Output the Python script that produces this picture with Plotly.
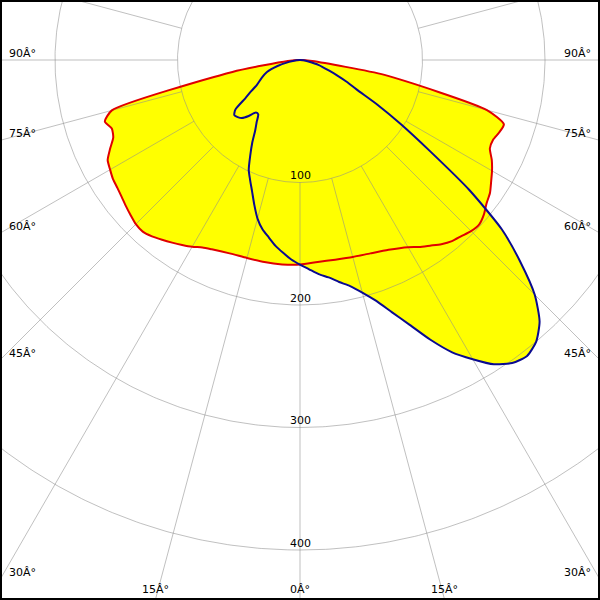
import numpy as np
import plotly.graph_objects as go

# Luminous intensity (cd/klm) vs. angle from nadir (deg); negative = left half-plane
red_angles = [-90, -85, -80, -75, -72.5, -70, -67.5, -65, -62.5, -60, -57.5, -55, -52.5, -50,
              -47.5, -45, -42.5, -40, -37.5, -35, -32.5, -30, -27.5, -25, -20, -15, -10, -5,
              0, 5, 10, 15, 20, 25, 30, 32.5, 35, 37.5, 40, 42.5, 45, 47.5, 50, 52.5, 55,
              57.5, 60, 62.5, 65, 67.5, 70, 72.5, 75, 80, 85, 90]
red_values = [0, 10, 56, 159, 167, 163.5, 165, 171, 177, 179, 181, 182, 183.5, 185.5,
              187.5, 189.5, 190, 188, 185, 182, 179, 176, 172.5, 170.5, 168, 167.3, 167.5, 167.5,
              167, 165.5, 165.5, 166.5, 168, 171, 176.5, 181, 185, 189.5, 193, 195, 197.5, 198.5,
              196, 192, 189.3, 185, 181, 176.5, 171, 170.5, 173, 174.5, 158, 70, 10, 0]

blue_angles = [-90, -85, -80, -75, -70, -65, -60, -57.5, -55, -52.5, -50, -47.5, -45, -42.5,
               -40, -37.5, -35, -32.5, -30, -27.5, -25, -22.5, -20, -17.5, -15, -12.5, -10,
               -7.5, -5, -2.5, 0, 2.5, 5, 7.5, 10, 12.5, 15, 17.5, 20, 22.5, 25, 27.5, 30,
               32.5, 35, 37.5, 40, 42.5, 45, 47.5, 50, 52.5, 55, 57.5, 60, 62.5, 65, 67.5,
               70, 75, 80, 85, 90]
blue_values = [0, 3, 9, 19, 28.7, 34.5, 40.6, 47, 54.5, 66.5, 70, 69, 67, 62,
               56, 56, 61.6, 68, 78, 88, 99, 106.3, 114.3, 124, 134, 141.5, 147,
               153, 158, 163, 167, 171, 175.5, 179, 184, 189, 196.5, 206, 219, 234, 252, 269, 282,
               294.5, 302, 304.5, 300, 289.5, 271, 244, 215, 174, 129, 98, 73, 52, 42, 32.7,
               25, 16, 7, 3, 0]

ring_values = [100, 200, 300, 400]
ring_labels = ["100", "200", "300", "400"]
spoke_angles = list(range(0, 360, 15))
side_label_angles = [90, 75, 60, 45, 30]
bottom_label_angles = [0, 15]

S = 1.225          # pixels per cd/klm
W, H = 600, 600
CX, CY = 300, 60   # pixel position of the pole

def to_xy(ang, val):
    a = np.radians(np.asarray(ang, dtype=float))
    v = np.asarray(val, dtype=float)
    return v * np.sin(a), -v * np.cos(a)

fig = go.Figure()

rx, ry = to_xy(red_angles, red_values)
bx, by = to_xy(blue_angles, blue_values)

for x, y in [(rx, ry), (bx, by)]:
    fig.add_trace(go.Scatter(x=x, y=y, mode="lines", fill="toself", fillcolor="#ffff00",
                             line=dict(width=0, color="#ffff00", shape="spline", smoothing=0.6),
                             hoverinfo="skip"))

# grid
gx, gy = [], []
th = np.linspace(0, 360, 721)
for r in ring_values:
    x, y = to_xy(th, np.full_like(th, r))
    gx += list(x) + [None]
    gy += list(y) + [None]
for a in spoke_angles:
    x, y = to_xy([a, a], [ring_values[0], 800])
    gx += list(x) + [None]
    gy += list(y) + [None]
fig.add_trace(go.Scatter(x=gx, y=gy, mode="lines", line=dict(color="rgba(140,140,140,0.55)", width=1),
                         hoverinfo="skip"))

fig.add_trace(go.Scatter(x=rx, y=ry, mode="lines",
                         line=dict(color="#e00000", width=2, shape="spline", smoothing=0.6),
                         hoverinfo="skip"))
fig.add_trace(go.Scatter(x=bx, y=by, mode="lines",
                         line=dict(color="#0a0a90", width=2, shape="spline", smoothing=0.6),
                         hoverinfo="skip"))

xmin, xmax = -CX / S, (W - CX) / S
ymin, ymax = -(H - CY) / S, CY / S

font = dict(family="DejaVu Sans", size=11, color="black")
ann = []
for r, t in zip(ring_values, ring_labels):
    ann.append(dict(x=0, y=-r, xref="x", yref="y", text=t, showarrow=False, font=font,
                    xanchor="center", yanchor="middle", yshift=7))
for a in side_label_angles:
    yy = -(-xmin) * np.cos(np.radians(a)) / np.sin(np.radians(a))
    for side in (-1, 1):
        ann.append(dict(x=0 if side < 0 else 1, y=yy, xref="paper", yref="y", text=f"{a}Â°",
                        showarrow=False, font=font, xanchor="left" if side < 0 else "right",
                        xshift=7 * (-side), yanchor="middle", yshift=7))
for a in bottom_label_angles:
    xx = (-ymin) * np.tan(np.radians(a))
    sides = (1,) if a == 0 else (-1, 1)
    for side in sides:
        ann.append(dict(x=side * xx, y=0, xref="x", yref="paper", text=f"{a}Â°",
                        showarrow=False, font=font, xanchor="center", yanchor="middle", yshift=11))

fig.update_layout(
    width=W, height=H, margin=dict(l=0, r=0, t=0, b=0),
    paper_bgcolor="white", plot_bgcolor="white", showlegend=False,
    xaxis=dict(visible=False, range=[xmin, xmax]),
    yaxis=dict(visible=False, range=[ymin, ymax]),
    annotations=ann,
    shapes=[dict(type="rect", xref="paper", yref="paper", x0=0, y0=0, x1=1, y1=1,
                 line=dict(color="black", width=4), layer="above")],
)

fig.write_html("out.html", post_script="document.body.style.margin='0';",
               config={"displayModeBar": False})
